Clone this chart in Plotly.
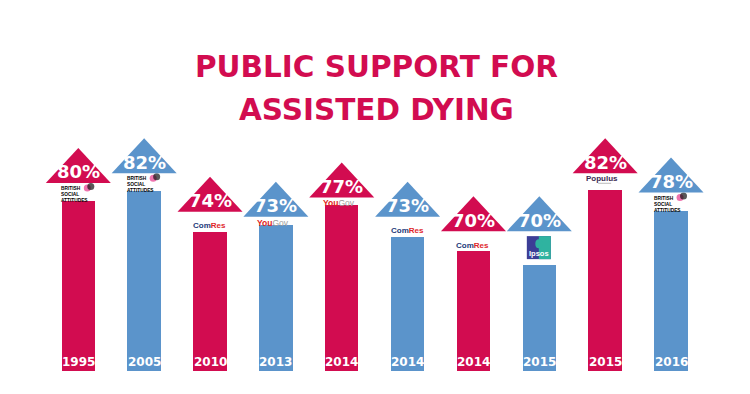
import plotly.graph_objects as go

# ---- data ----
years = ["1995", "2005", "2010", "2013", "2014", "2014", "2014", "2015", "2015", "2016"]
support = [80, 82, 74, 73, 77, 73, 70, 70, 82, 78]
pollsters = ["BSA", "BSA", "ComRes", "YouGov", "YouGov", "ComRes", "ComRes", "Ipsos", "Populus", "BSA"]
title_lines = ["PUBLIC SUPPORT FOR", "ASSISTED DYING"]

# ---- style / layout constants ----
RED = "#D20C50"
BLUE = "#5B94CB"
colors = [RED if i % 2 == 0 else BLUE for i in range(len(years))]
OFF = 8  # page body margin
W, H = 742, 386
XMIN, XMAX = -1.0674, 10.199
YMIN, YMAX = 28.95, 109.03
PXY = H / (YMAX - YMIN)
PXX = W / (XMAX - XMIN)
BASE = YMAX - (371 - OFF) / PXY
TRI_H = 35 / PXY
TRI_HW = 32.5 / PXX
BAR_W = 33.5 / PXX
LOGO_GAP = {"BSA": 18, "ComRes": 20, "YouGov": 8, "Ipsos": 34, "Populus": 17}
FONT = "DejaVu Sans"

xs = list(range(len(years)))
tri_base = [v - TRI_H for v in support]
tops = [tb - LOGO_GAP[p] / PXY for tb, p in zip(tri_base, pollsters)]

fig = go.Figure()
fig.add_trace(go.Bar(
    x=xs, y=[t - BASE for t in tops], base=[BASE] * len(xs), width=BAR_W,
    marker=dict(color=colors, line=dict(width=0)), hoverinfo="skip", showlegend=False,
))

shapes = []
ann = []


def dx(px):
    return px / PXX


def dy(px):
    return px / PXY


for i, (v, tb, c, yr, p) in enumerate(zip(support, tri_base, colors, years, pollsters)):
    shapes.append(dict(type="path", xref="x", yref="y",
                       path=f"M {i - TRI_HW},{tb} L {i + TRI_HW},{tb} L {i},{v} Z",
                       fillcolor=c, line=dict(width=0), layer="above"))
    ann.append(dict(x=i, y=tb, xref="x", yref="y", text=f"{v}%", showarrow=False,
                    yanchor="middle", yshift=11, borderpad=0,
                    font=dict(family=FONT, size=18, color="white", weight="bold")))
    ann.append(dict(x=i, y=BASE, xref="x", yref="y", text=yr, showarrow=False,
                    yanchor="middle", yshift=9,
                    font=dict(family=FONT, size=12, color="white", weight="bold")))
    # logos (as text/shapes)
    if p == "BSA":
        ann.append(dict(x=i, y=tb, xref="x", yref="y", text="BRITISH<br>SOCIAL<br>ATTITUDES",
                        showarrow=False, align="left", xanchor="left", yanchor="top",
                        xshift=-18, yshift=-2, borderpad=0,
                        font=dict(family="Liberation Sans", size=4.8, color="black", weight="bold")))
        fig.add_trace(go.Scatter(x=[i + dx(9), i + dx(12.5)], y=[tb - dy(5), tb - dy(3.5)],
                                 mode="markers", hoverinfo="skip", showlegend=False,
                                 marker=dict(size=[7, 7], color=["#E5388A", "#111111"], line=dict(width=0))))
    elif p == "ComRes":
        ann.append(dict(x=i, y=tb, xref="x", yref="y",
                        text="<span style='color:#1D3A7A'>Com</span><span style='color:#E0262B'>Res</span>",
                        showarrow=False, xanchor="left", yanchor="middle", xshift=-18, yshift=-14,
                        borderpad=0, font=dict(family="Liberation Sans", size=8, weight="bold")))
        fig.add_trace(go.Scatter(x=[i + dx(4), i + dx(8)], y=[tb - dy(9), tb - dy(9)],
                                 mode="markers", hoverinfo="skip", showlegend=False,
                                 marker=dict(size=8, color="rgba(0,0,0,0)", symbol="circle-open",
                                             line=dict(width=1.8, color=["#E0262B", "#1D3A7A"]))))
    elif p == "YouGov":
        ann.append(dict(x=i, y=tb, xref="x", yref="y",
                        text="<span style='color:#E2231A'><b>You</b></span><span style='color:#9A9A9A'>Gov</span>",
                        showarrow=False, xanchor="center", yanchor="middle", xshift=-3, yshift=-6,
                        borderpad=0, font=dict(family="Liberation Sans", size=8.5)))
    elif p == "Ipsos":
        shapes.append(dict(type="rect", xref="x", yref="y", x0=i - dx(12.5), x1=i + dx(11.5),
                           y0=tb - dy(28), y1=tb - dy(5), fillcolor="#3C3E96", line=dict(width=0)))
        shapes.append(dict(type="rect", xref="x", yref="y", x0=i - dx(0.5), x1=i + dx(11.5),
                           y0=tb - dy(28), y1=tb - dy(5), fillcolor="#2FB3A0", line=dict(width=0)))
        shapes.append(dict(type="circle", xref="x", yref="y", x0=i - dx(4), x1=i + dx(3),
                           y0=tb - dy(17), y1=tb - dy(8), fillcolor="#2FB3A0", line=dict(width=0)))
        ann.append(dict(x=i, y=tb, xref="x", yref="y", text="Ipsos", showarrow=False,
                        xanchor="center", yanchor="middle", xshift=-0.5, yshift=-22, borderpad=0,
                        font=dict(family="Liberation Sans", size=7.5, color="white", weight="bold")))
    elif p == "Populus":
        ann.append(dict(x=i, y=tb, xref="x", yref="y", text="Populus", showarrow=False,
                        xanchor="center", yanchor="middle", xshift=-3, yshift=-5, borderpad=0,
                        font=dict(family="Liberation Sans", size=8, color="#3B2A50", weight="bold")))
        shapes.append(dict(type="line", xref="x", yref="y", x0=i - dx(7), x1=i + dx(6),
                           y0=tb - dy(10), y1=tb - dy(10), line=dict(color="#BBBBBB", width=1)))

# title
for line, py in zip(title_lines, [67, 109.5]):
    ann.append(dict(x=(376 - OFF) / W, y=1 - (py - OFF) / H, xref="paper", yref="paper",
                    text=line, showarrow=False, xanchor="center", yanchor="middle",
                    font=dict(family=FONT, size=29.5, color=RED, weight="bold")))

fig.update_layout(
    width=W, height=H, margin=dict(l=0, r=0, t=0, b=0),
    paper_bgcolor="white", plot_bgcolor="white",
    xaxis=dict(range=[XMIN, XMAX], visible=False, fixedrange=True),
    yaxis=dict(range=[YMIN, YMAX], visible=False, fixedrange=True),
    shapes=shapes, annotations=ann, bargap=0, showlegend=False,
)
fig.write_html("out.html")
